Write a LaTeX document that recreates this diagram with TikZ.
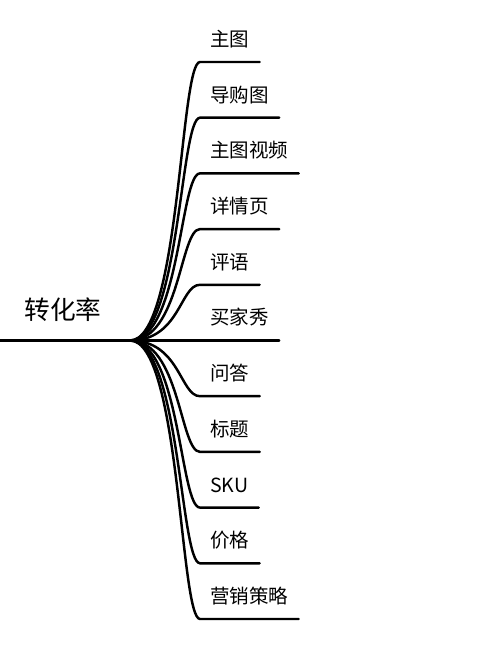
\documentclass[tikz,border=0pt]{standalone}
\usepackage{fontspec}
\setmainfont{Noto Sans CJK SC}
\usetikzlibrary{calc}

\begin{document}
\begin{tikzpicture}[branch/.style={line width=1.4pt, line cap=round}, leaf/.style={inner xsep=0.2cm, inner ysep=0pt, font=\fontsize{11.1pt}{13pt}\selectfont}, roottext/.style={inner sep=0pt, font=\fontsize{14.6pt}{17pt}\selectfont}]
  \useasboundingbox (0,0) rectangle (10,13);
  \coordinate (start) at (0,6.19);
  \coordinate (hub) at (2.6,6.19);
  \node[roottext, anchor=base] (root) at (1.26,6.61) {转化率};
  \draw[branch] (start) -- (hub);
  \foreach \txt [count=\i] in {主图,导购图,主图视频,详情页,评语,买家秀,问答,标题,SKU,价格,营销策略} {
    \coordinate (k\i) at (4.0,{11.76-1.114*(\i-1)});
    \node[leaf, anchor=base west] (c\i) at ($(k\i)+(0,0.31)$) {\txt};
    \draw[branch] (hub) .. controls +(1.0,0) and +(-0.4,0) .. (k\i) -- (k\i -| c\i.east);
  }
\end{tikzpicture}
\end{document}
